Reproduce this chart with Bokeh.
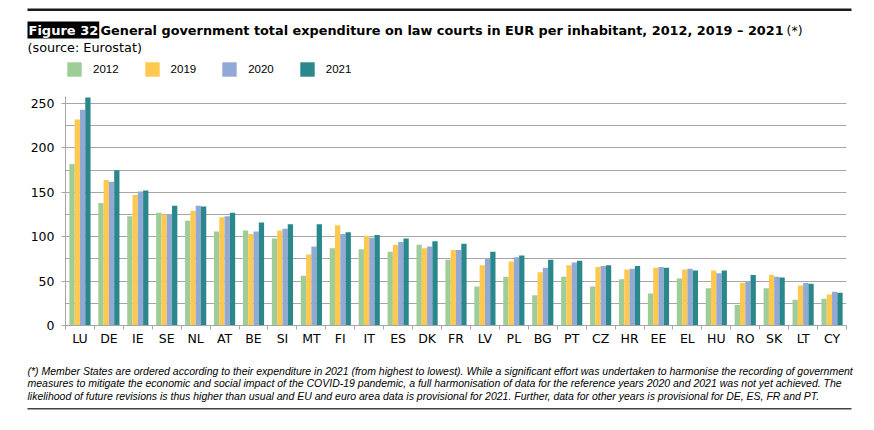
import numpy as np
from bokeh.plotting import figure
from bokeh.layouts import column
from bokeh.models import (ColumnDataSource, Range1d, FixedTicker, SingleIntervalTicker,
                          Label, BoxAnnotation, Legend, LegendItem)
from bokeh.transform import dodge
from bokeh.embed import file_html
from bokeh.resources import INLINE

countries = ["LU", "DE", "IE", "SE", "NL", "AT", "BE", "SI", "MT", "FI", "IT", "ES", "DK", "FR",
             "LV", "PL", "BG", "PT", "CZ", "HR", "EE", "EL", "HU", "RO", "SK", "LT", "CY"]
v2012 = [182, 138, 123, 127, 118, 106, 107, 98, 56, 87, 86, 83, 91, 74, 44, 55, 34, 55, 44, 52, 36, 53, 42, 23, 42, 29, 30]
v2019 = [232, 164, 147, 125, 129, 122, 103, 107, 80, 113, 101, 91, 87, 85, 68, 72, 60, 68, 66, 63, 65, 63, 62, 48, 57, 45, 35]
v2020 = [243, 162, 151, 125, 135, 123, 106, 109, 89, 103, 99, 94, 89, 85, 75, 77, 65, 71, 67, 64, 66, 64, 59, 49, 55, 48, 38]
v2021 = [257, 175, 152, 135, 134, 127, 116, 114, 114, 105, 102, 98, 95, 92, 83, 79, 74, 73, 68, 67, 65, 62, 62, 57, 54, 47, 37]
years = ["2012", "2019", "2020", "2021"]
colors = ["#9FCD98", "#FFC94F", "#93A9D5", "#2A888C"]

title_text = "General government total expenditure on law courts in EUR per inhabitant, 2012, 2019 \u2013 2021"
footnote = [
    "(*) Member States are ordered according to their expenditure in 2021 (from highest to lowest). While a significant effort was undertaken to harmonise the recording of government",
    "measures to mitigate the economic and social impact of the COVID-19 pandemic, a full harmonisation of data for the reference years 2020 and 2021 was not yet achieved. The",
    "likelihood of future revisions is thus higher than usual and EU and euro area data is provisional for 2021.  Further, data for other years is provisional for DE, ES, FR and PT.",
]

W = 874
HEAD_H, MAIN_H, FOOT_H = 90, 270, 70
FL, FR = 65, 846

xpos = np.arange(len(countries)) + 0.5
src = ColumnDataSource(dict(x=xpos, c=countries, y2012=v2012, y2019=v2019, y2020=v2020, y2021=v2021))
bw = 0.183
offsets = [-1.5 * bw, -0.5 * bw, 0.5 * bw, 1.5 * bw]


def blank(h):
    f = figure(width=W, height=h, output_backend="svg", toolbar_location=None,
               x_range=Range1d(0, W), y_range=Range1d(h, 0),
               x_axis_type=None, y_axis_type=None,
               min_border_left=0, min_border_right=0, min_border_top=0, min_border_bottom=0)
    f.frame_align = False
    f.outline_line_color = None
    f.grid.grid_line_color = None
    f.background_fill_color = "white"
    f.border_fill_color = "white"
    return f


# ---------- header ----------
head = blank(HEAD_H)
head.add_layout(BoxAnnotation(left=27, right=851, top=8, bottom=10.5,
                              fill_color="#1a1a1a", fill_alpha=1, line_color=None))
head.add_layout(Label(x=27, y=29.5, text="Figure 32",
                      text_font="DejaVu Sans", text_font_style="bold", text_font_size="13px",
                      text_color="white", text_baseline="middle", background_fill_color="black",
                      padding=1))
head.add_layout(Label(x=100, y=29.5, text=title_text,
                      text_font="DejaVu Sans", text_font_style="bold", text_font_size="12.85px",
                      text_color="black", text_baseline="middle"))
head.add_layout(Label(x=786, y=29.5, text="(*)",
                      text_font="DejaVu Sans", text_font_size="12.5px",
                      text_color="black", text_baseline="middle"))
head.add_layout(Label(x=27, y=47, text="(source: Eurostat)",
                      text_font="DejaVu Sans", text_font_size="12.8px",
                      text_color="black", text_baseline="middle"))
leg_items = []
for yr, col in zip(years, colors):
    r = head.vbar(x="x", top="y" + yr, width=bw, source=src, fill_color=col,
                  line_color=None, visible=False)
    leg_items.append(LegendItem(label=yr, renderers=[r]))
legend = Legend(items=leg_items, orientation="horizontal", location=(FL, HEAD_H - 78),
                glyph_width=18, glyph_height=18, label_standoff=10, spacing=24,
                padding=0, margin=0, border_line_color=None, background_fill_alpha=0,
                inactive_fill_alpha=0,
                label_text_font="Liberation Sans", label_text_font_size="11.5px",
                label_text_baseline="middle", label_text_color="black")
head.add_layout(legend, "center")

# ---------- main chart ----------
FT, FB = 96 - HEAD_H, 325 - HEAD_H
p = figure(width=W, height=MAIN_H, output_backend="svg", toolbar_location=None,
           x_range=Range1d(0, len(countries)), y_range=Range1d(0, 258),
           min_border_left=FL, min_border_right=W - FR, min_border_top=FT,
           min_border_bottom=MAIN_H - FB)
p.frame_align = False
p.outline_line_color = None
p.background_fill_color = "white"
p.border_fill_color = "white"

for yr, col, off in zip(years, colors, offsets):
    p.vbar(x=dodge("x", off, range=p.x_range), top="y" + yr, width=bw, source=src,
           fill_color=col, line_color=None)

grey = "#A6A6A6"
p.xaxis.ticker = FixedTicker(ticks=list(xpos), minor_ticks=list(range(len(countries) + 1)))
p.xaxis.major_label_overrides = {float(x): c for x, c in zip(xpos, countries)}
p.xaxis.major_tick_line_color = None
p.xaxis.major_tick_out = 0
p.xaxis.major_tick_in = 0
p.xaxis.minor_tick_line_color = grey
p.xaxis.minor_tick_out = 4
p.xaxis.minor_tick_in = 0
p.xaxis.axis_line_color = grey
p.xaxis.major_label_standoff = 1
p.xaxis.major_label_text_font = "DejaVu Sans"
p.xaxis.major_label_text_font_size = "12.5px"
p.xaxis.major_label_text_color = "black"
p.xgrid.grid_line_color = None

p.yaxis.ticker = SingleIntervalTicker(interval=50, num_minor_ticks=2)
p.yaxis.axis_line_color = grey
p.yaxis.major_tick_line_color = grey
p.yaxis.major_tick_out = 4
p.yaxis.major_tick_in = 0
p.yaxis.minor_tick_line_color = None
p.yaxis.major_label_standoff = 7
p.yaxis.major_label_text_font = "DejaVu Sans"
p.yaxis.major_label_text_font_size = "12.5px"
p.yaxis.major_label_text_color = "black"
p.ygrid.grid_line_color = grey
p.ygrid.minor_grid_line_color = grey

# ---------- footer ----------
foot = blank(FOOT_H)
y0 = HEAD_H + MAIN_H
for i, line in enumerate(footnote):
    foot.add_layout(Label(x=27, y=370 + 12.7 * i - y0, text=line,
                          text_font="Liberation Sans", text_font_style="italic",
                          text_font_size="10.5px", text_color="black", text_baseline="middle"))
foot.add_layout(BoxAnnotation(left=27, right=851, top=407.5 - y0, bottom=409 - y0,
                              fill_color="#444444", fill_alpha=1, line_color=None))

layout = column(head, p, foot, spacing=0)
open("out.html", "w").write(file_html(layout, INLINE))
